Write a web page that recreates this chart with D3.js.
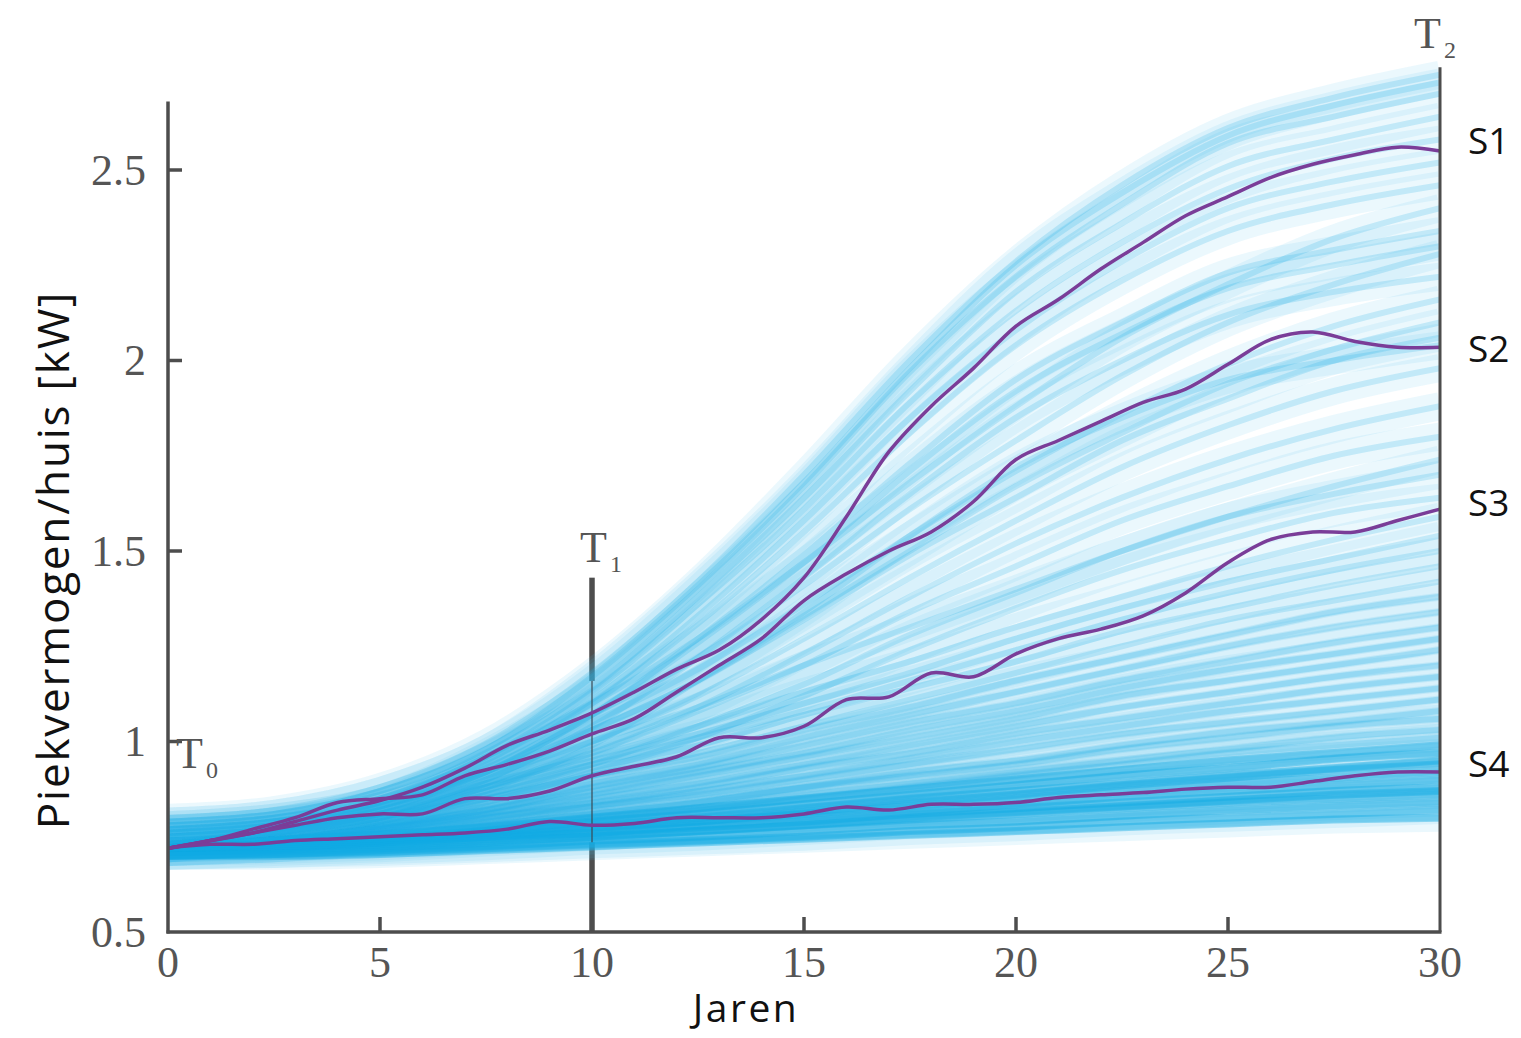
<!DOCTYPE html>
<html><head><meta charset="utf-8">
<script src="https://cdn.jsdelivr.net/npm/d3@7"></script>
<style>
html,body{margin:0;padding:0;background:#fff;}
svg{display:block;}
</style></head>
<body>
<svg id="chart" width="1521" height="1038"></svg>
<script>
// ---------- DATA ----------
const xTicks = [0, 5, 10, 15, 20, 25, 30];
const yTicks = [0.5, 1, 1.5, 2, 2.5];
const yTickLabels = ["0.5", "1", "1.5", "2", "2.5"];
const fanYears = [0, 2.5, 5, 7.5, 10, 12.5, 15, 17.5, 20, 22.5, 25, 27.5, 30];

const fanUpper = [
  [0.80,0.82,0.88,0.995,1.18,1.42,1.70,2.00,2.26,2.46,2.61,2.69,2.75],
  [0.79,0.81,0.87,0.98,1.17,1.41,1.68,1.98,2.25,2.44,2.59,2.67,2.73],
  [0.79,0.81,0.87,0.98,1.16,1.40,1.67,1.97,2.22,2.41,2.57,2.64,2.70],
  [0.78,0.80,0.85,0.97,1.14,1.38,1.64,1.92,2.18,2.36,2.51,2.58,2.64],
  [0.78,0.80,0.85,0.96,1.13,1.36,1.61,1.89,2.13,2.31,2.45,2.53,2.58],
  [0.77,0.79,0.84,0.95,1.11,1.33,1.58,1.85,2.08,2.26,2.40,2.47,2.52],
  [0.77,0.79,0.84,0.94,1.10,1.31,1.55,1.81,2.04,2.21,2.34,2.41,2.46],
  [0.76,0.78,0.84,0.96,1.10,1.27,1.47,1.68,1.88,2.06,2.20,2.32,2.40],
  [0.76,0.78,0.82,0.92,1.07,1.27,1.49,1.73,1.95,2.10,2.23,2.29,2.34],
  [0.77,0.79,0.83,0.92,1.07,1.26,1.47,1.71,1.92,2.07,2.19,2.25,2.30],
  [0.75,0.77,0.83,0.93,1.07,1.22,1.41,1.61,1.79,1.96,2.10,2.20,2.28],
  [0.75,0.77,0.81,0.90,1.04,1.22,1.43,1.65,1.85,2.00,2.12,2.18,2.22],
  [0.75,0.77,0.82,0.92,1.05,1.19,1.36,1.54,1.71,1.86,1.99,2.09,2.16],
  [0.74,0.76,0.81,0.90,1.03,1.16,1.33,1.50,1.67,1.81,1.94,2.03,2.10],
  [0.76,0.78,0.83,0.92,1.03,1.16,1.32,1.49,1.64,1.79,1.90,2.00,2.06],
  [0.74,0.75,0.79,0.87,0.99,1.16,1.34,1.54,1.72,1.85,1.95,2.00,2.04],
  [0.74,0.76,0.80,0.89,1.00,1.12,1.27,1.43,1.58,1.72,1.83,1.92,1.98]
];
const fanMid = [
  [0.74,0.76,0.80,0.88,0.98,1.09,1.23,1.38,1.52,1.64,1.74,1.82,1.88],
  [0.75,0.77,0.80,0.88,0.97,1.08,1.20,1.34,1.46,1.58,1.67,1.75,1.80],
  [0.73,0.77,0.83,0.91,1.00,1.09,1.20,1.30,1.40,1.50,1.59,1.67,1.74],
  [0.74,0.75,0.79,0.86,0.94,1.04,1.15,1.28,1.39,1.50,1.59,1.65,1.70],
  [0.73,0.74,0.78,0.84,0.92,1.01,1.12,1.24,1.35,1.45,1.53,1.60,1.64],
  [0.73,0.76,0.82,0.89,0.96,1.04,1.13,1.21,1.30,1.38,1.46,1.53,1.59],
  [0.73,0.76,0.81,0.88,0.95,1.02,1.10,1.18,1.27,1.35,1.42,1.48,1.54],
  [0.73,0.76,0.81,0.87,0.94,1.01,1.08,1.16,1.24,1.32,1.39,1.45,1.50],
  [0.73,0.76,0.80,0.86,0.93,0.99,1.07,1.14,1.21,1.29,1.35,1.41,1.46],
  [0.72,0.75,0.79,0.85,0.91,0.97,1.04,1.11,1.18,1.25,1.32,1.37,1.42]
];
const fanLow = [
  [0.73,0.76,0.80,0.85,0.91,0.96,1.03,1.09,1.16,1.22,1.28,1.34,1.38],
  [0.72,0.745,0.78,0.83,0.89,0.94,1.01,1.07,1.13,1.19,1.25,1.30,1.34],
  [0.72,0.74,0.78,0.82,0.88,0.93,0.99,1.05,1.10,1.16,1.21,1.26,1.30],
  [0.72,0.74,0.775,0.82,0.87,0.92,0.97,1.03,1.08,1.14,1.19,1.23,1.27],
  [0.72,0.74,0.77,0.81,0.86,0.91,0.96,1.01,1.06,1.12,1.16,1.20,1.24],
  [0.72,0.74,0.77,0.81,0.85,0.89,0.94,0.99,1.04,1.09,1.13,1.17,1.20],
  [0.72,0.74,0.77,0.80,0.84,0.88,0.93,0.97,1.02,1.06,1.10,1.14,1.17],
  [0.72,0.74,0.76,0.80,0.83,0.87,0.91,0.955,1.00,1.04,1.08,1.11,1.14],
  [0.72,0.74,0.76,0.79,0.83,0.86,0.90,0.94,0.98,1.02,1.05,1.08,1.11],
  [0.71,0.725,0.75,0.78,0.81,0.84,0.88,0.92,0.95,0.99,1.025,1.05,1.08],
  [0.72,0.73,0.75,0.78,0.81,0.84,0.88,0.91,0.94,0.98,1.01,1.04,1.06],
  [0.71,0.72,0.74,0.77,0.80,0.825,0.86,0.89,0.92,0.95,0.98,1.01,1.03],
  [0.71,0.72,0.74,0.76,0.79,0.82,0.85,0.88,0.91,0.94,0.97,0.99,1.01]
];
const fanBase = [
  [0.73,0.74,0.755,0.775,0.80,0.825,0.85,0.875,0.90,0.925,0.95,0.97,0.99],
  [0.72,0.73,0.745,0.765,0.79,0.81,0.835,0.86,0.885,0.91,0.93,0.955,0.97],
  [0.72,0.725,0.74,0.76,0.78,0.80,0.825,0.85,0.87,0.89,0.91,0.93,0.95],
  [0.71,0.72,0.735,0.75,0.77,0.79,0.815,0.84,0.86,0.885,0.905,0.925,0.94],
  [0.72,0.73,0.74,0.755,0.775,0.79,0.81,0.83,0.85,0.87,0.89,0.905,0.92],
  [0.71,0.72,0.73,0.745,0.76,0.78,0.80,0.815,0.835,0.855,0.87,0.885,0.90],
  [0.72,0.725,0.735,0.75,0.76,0.775,0.79,0.81,0.825,0.84,0.855,0.87,0.88],
  [0.70,0.71,0.72,0.735,0.75,0.765,0.78,0.80,0.815,0.83,0.845,0.86,0.87],
  [0.71,0.715,0.725,0.74,0.75,0.765,0.78,0.795,0.81,0.825,0.84,0.85,0.86],
  [0.70,0.705,0.715,0.725,0.74,0.75,0.765,0.78,0.79,0.805,0.82,0.83,0.84],
  [0.70,0.705,0.71,0.72,0.73,0.74,0.75,0.765,0.775,0.79,0.80,0.81,0.82],
  [0.70,0.70,0.705,0.715,0.725,0.735,0.745,0.755,0.765,0.775,0.785,0.795,0.80]
];

const scenYears = d3.range(0, 31);
const s1 = [0.72,0.74,0.76,0.79,0.82,0.845,0.88,0.93,0.99,1.03,1.075,1.13,1.19,1.24,1.32,1.43,1.59,1.76,1.88,1.98,2.09,2.16,2.24,2.31,2.38,2.43,2.48,2.515,2.54,2.56,2.55];
const s2 = [0.72,0.74,0.77,0.80,0.84,0.85,0.86,0.91,0.94,0.975,1.02,1.06,1.13,1.20,1.27,1.37,1.44,1.50,1.55,1.63,1.74,1.79,1.84,1.89,1.925,1.99,2.055,2.075,2.05,2.035,2.035];
const s3 = [0.72,0.74,0.76,0.78,0.80,0.81,0.81,0.85,0.85,0.87,0.91,0.935,0.96,1.01,1.01,1.04,1.11,1.117,1.18,1.17,1.23,1.27,1.295,1.33,1.39,1.47,1.53,1.55,1.55,1.58,1.61];
const s4 = [0.72,0.73,0.73,0.74,0.745,0.75,0.755,0.76,0.77,0.79,0.78,0.785,0.80,0.80,0.80,0.81,0.828,0.82,0.835,0.835,0.84,0.853,0.86,0.866,0.875,0.88,0.88,0.895,0.91,0.92,0.92];
const scenarioNames = ["S1", "S2", "S3", "S4"];
const scenarioLabelValues = [2.58, 2.035, 1.63, 0.946];

// ---------- CHART ----------
const svg = d3.select("#chart");
const x = d3.scaleLinear().domain([0, 30]).range([168, 1440]);
const y = d3.scaleLinear().domain([0.5, 2.5]).range([932, 170]);
const axisColor = "#4d4d4d";
const serif = "'Liberation Serif','DejaVu Serif',serif";
const sans = "'Open Sans','Noto Sans',sans-serif";

svg.append("defs").append("clipPath").attr("id", "plotclip")
  .append("rect").attr("x", x(0)).attr("y", 0).attr("width", x(30) - x(0)).attr("height", y(0.5));

const allFan = [...fanUpper, ...fanMid, ...fanLow, ...fanBase];
const idx10 = fanYears.indexOf(10);
const fanMax10 = d3.max(allFan, d => d[idx10]);
const fanMin10 = d3.min(allFan, d => d[idx10]);

// T1 thick segments (outside of the fan)
const t1Top = 1.43;
svg.append("line").attr("x1", x(10)).attr("x2", x(10)).attr("y1", y(t1Top)).attr("y2", y(fanMax10) + 8)
  .attr("stroke", axisColor).attr("stroke-width", 5.5);
svg.append("line").attr("x1", x(10)).attr("x2", x(10)).attr("y1", y(fanMin10) - 4).attr("y2", y(0.5))
  .attr("stroke", axisColor).attr("stroke-width", 5.5);

// fan
const fanLine = d3.line().x((d, i) => x(fanYears[i])).y(d => y(d)).curve(d3.curveMonotoneX);
const gFan = svg.append("g").attr("clip-path", "url(#plotclip)");
gFan.selectAll("path.wide").data(allFan).join("path")
  .attr("d", fanLine).attr("fill", "none")
  .attr("stroke", "#45bfee").attr("stroke-opacity", 0.11)
  .attr("stroke-width", 28);
gFan.selectAll("path.mid").data(allFan).join("path")
  .attr("d", fanLine).attr("fill", "none")
  .attr("stroke", "#1cb0e8").attr("stroke-opacity", 0.2)
  .attr("stroke-width", 6);
gFan.selectAll("path.low").data(fanLow).join("path")
  .attr("d", fanLine).attr("fill", "none")
  .attr("stroke", "#1cb0e8").attr("stroke-opacity", 0.12)
  .attr("stroke-width", 8);
gFan.selectAll("path.core").data(fanBase).join("path")
  .attr("d", fanLine).attr("fill", "none")
  .attr("stroke", "#0eaae4").attr("stroke-opacity", 0.4)
  .attr("stroke-width", 8);

// thin T1 through the fan
svg.append("line").attr("x1", x(10)).attr("x2", x(10)).attr("y1", y(fanMax10) + 8).attr("y2", y(fanMin10) - 4)
  .attr("stroke", "#3a4a55").attr("stroke-width", 1.5).attr("stroke-opacity", 0.8);

// scenario lines
const scen = [s1, s2, s3, s4];
const scenLine = d3.line().x((d, i) => x(scenYears[i])).y(d => y(d)).curve(d3.curveCatmullRom.alpha(0.5));
svg.append("g").selectAll("path").data(scen).join("path")
  .attr("d", scenLine).attr("fill", "none")
  .attr("stroke", "#7a3d98").attr("stroke-width", 3.5).attr("stroke-linejoin", "round");

// axes
const g = svg.append("g").attr("stroke", axisColor).attr("stroke-width", 3.5).attr("fill", "none");
g.append("line").attr("x1", x(0)).attr("x2", x(0)).attr("y1", y(0.5) + 1.5).attr("y2", y(2.68));
g.append("line").attr("x1", x(0) - 1.5).attr("x2", x(30) + 1.5).attr("y1", y(0.5)).attr("y2", y(0.5));
g.append("line").attr("x1", x(30)).attr("x2", x(30)).attr("y1", y(0.5)).attr("y2", y(2.77)).attr("stroke-width", 3);

// ticks inward
g.selectAll("line.xt").data(xTicks.filter(t => t > 0 && t < 30 && t !== 10)).join("line")
  .attr("x1", d => x(d)).attr("x2", d => x(d)).attr("y1", y(0.5)).attr("y2", y(0.5) - 15);
g.selectAll("line.yt").data(yTicks.filter(t => t > 0.5)).join("line")
  .attr("x1", x(0)).attr("x2", x(0) + 14).attr("y1", d => y(d)).attr("y2", d => y(d));

// tick labels
svg.selectAll("text.xl").data(xTicks).join("text")
  .attr("x", d => x(d)).attr("y", y(0.5) + 30).attr("text-anchor", "middle")
  .attr("dominant-baseline", "central")
  .attr("font-family", serif).attr("font-size", 44).attr("fill", "#555").text(d => d);
svg.selectAll("text.yl").data(yTicks).join("text")
  .attr("x", x(0) - 22).attr("y", d => y(d)).attr("text-anchor", "end")
  .attr("dominant-baseline", "central")
  .attr("font-family", serif).attr("font-size", 44).attr("fill", "#555").text((d, i) => yTickLabels[i]);

// axis titles
svg.append("text").attr("transform", `translate(52,560) rotate(-90)`)
  .attr("text-anchor", "middle").attr("dominant-baseline", "central")
  .attr("font-family", sans).attr("font-size", 44).attr("letter-spacing", 1.8)
  .attr("fill", "#111").text("Piekvermogen/huis [kW]");
svg.append("text").attr("x", 746).attr("y", 1022)
  .attr("text-anchor", "middle")
  .attr("font-family", sans).attr("font-size", 39).attr("letter-spacing", 2.5)
  .attr("fill", "#111").text("Jaren");

// T markers
function marker(px, py, sub) {
  const t = svg.append("text").attr("x", px).attr("y", py)
    .attr("font-family", serif).attr("font-size", 44).attr("fill", "#555");
  t.append("tspan").text("T");
  t.append("tspan").attr("font-size", 24).attr("dy", 10).attr("dx", 3).text(sub);
}
marker(x(0) + 8, y(0.93), "0");
marker(x(10) - 12, y(1.47), "1");
marker(x(30) - 26, y(2.82), "2");

// scenario labels
svg.selectAll("text.sl").data(scenarioNames).join("text")
  .attr("x", x(30) + 28).attr("y", (d, i) => y(scenarioLabelValues[i]))
  .attr("dominant-baseline", "central")
  .attr("font-family", sans).attr("font-size", 37).attr("fill", "#111").text(d => d);
</script>
</body></html>
